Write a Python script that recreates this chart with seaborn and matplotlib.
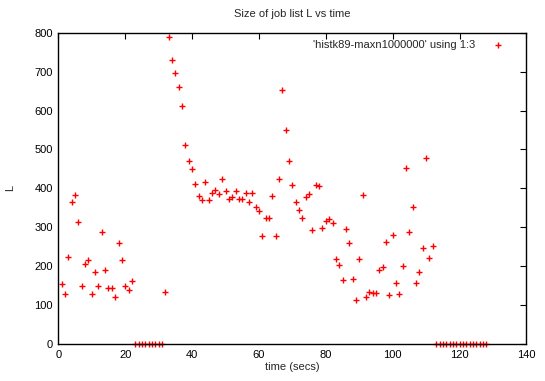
import matplotlib
matplotlib.use("Agg")
import matplotlib.pyplot as plt
import seaborn as sns
import pandas as pd

# time (secs) of each sample
times = [1, 2, 3, 4, 5, 6, 7, 8, 9, 10,
         11, 12, 13, 14, 15, 16, 17, 18, 19, 20,
         21, 22, 23, 24, 25, 26, 27, 28, 29, 30,
         31, 32, 33, 34, 35, 36, 37, 38, 39, 40,
         41, 42, 43, 44, 45, 46, 47, 48, 49, 50,
         51, 52, 53, 54, 55, 56, 57, 58, 59, 60,
         61, 62, 63, 64, 65, 66, 67, 68, 69, 70,
         71, 72, 73, 74, 75, 76, 77, 78, 79, 80,
         81, 82, 83, 84, 85, 86, 87, 88, 89, 90,
         91, 92, 93, 94, 95, 96, 97, 98, 99, 100,
         101, 102, 103, 104, 105, 106, 107, 108, 109, 110,
         111, 112, 113, 114, 115, 116, 117, 118, 119, 120,
         121, 122, 123, 124, 125, 126, 127, 128]

# size of job list L
job_list = [154, 128, 224, 366, 383, 314, 148, 205, 216, 128,
            184, 148, 288, 190, 143, 145, 120, 260, 215, 150,
            140, 161, 0, 0, 0, 0, 0, 0, 0, 0,
            0, 133, 788, 730, 697, 661, 612, 511, 470, 449,
            412, 381, 369, 416, 369, 389, 395, 386, 425, 394,
            373, 379, 393, 374, 374, 388, 365, 388, 352, 342,
            278, 325, 325, 381, 278, 423, 654, 551, 471, 410,
            366, 345, 324, 379, 386, 293, 410, 406, 299, 317,
            321, 310, 219, 203, 164, 296, 259, 168, 113, 218,
            384, 122, 133, 130, 130, 190, 197, 262, 127, 280,
            158, 128, 201, 453, 288, 351, 157, 185, 248, 479,
            220, 251, 0, 0, 0, 0, 0, 0, 0, 0,
            0, 0, 0, 0, 0, 0, 0, 0]

series_label = "'histk89-maxn1000000' using 1:3"

df = pd.DataFrame({"time": times, "L": job_list})

sns.set_style("white")
plt.rcParams["font.family"] = ["Liberation Sans", "DejaVu Sans"]
plt.rcParams["font.size"] = 8

fig, ax = plt.subplots(figsize=(5.45, 3.81), dpi=100)
fig.subplots_adjust(left=0.107, right=0.966, top=0.914, bottom=0.097)

sns.scatterplot(data=df, x="time", y="L", marker="+", color="#ff0000",
                s=20, linewidth=1.0, label=series_label, ax=ax, clip_on=False)

ax.set_xlim(0, 140)
ax.set_ylim(0, 800)
ax.set_xticks(range(0, 141, 20))
ax.set_yticks(range(0, 801, 100))
ax.tick_params(direction="in", length=4, width=0.8, top=True, right=True,
               labelsize=8, colors="black", pad=4)
for sp in ax.spines.values():
    sp.set_color("black")
    sp.set_linewidth(1.0)

ax.set_title("Size of job list L vs time", fontsize=8, pad=11)
ax.set_xlabel("time (secs)", fontsize=8, labelpad=2)
ax.set_ylabel("L", fontsize=8, labelpad=14, rotation=90)

leg = ax.legend(loc="upper right", frameon=False, markerfirst=False,
                fontsize=8, handletextpad=1.3, borderaxespad=1.4,
                handlelength=1.5)
leg.set_bbox_to_anchor((1.0, 1.04), transform=ax.transAxes)

fig.savefig("out.png", dpi=100)
